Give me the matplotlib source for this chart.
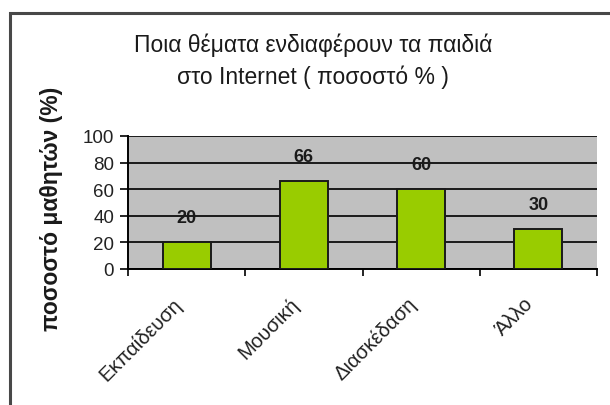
import matplotlib.pyplot as plt
import matplotlib.transforms as mtransforms
import numpy as np
from matplotlib.patches import Rectangle

plt.rcParams['font.family'] = ['Liberation Sans', 'DejaVu Sans']

categories = ["Εκπαίδευση", "Μουσική", "Διασκέδαση", "Άλλο"]
values = [20, 66, 60, 30]
title = "Ποια θέματα ενδιαφέρουν τα παιδιά\nστο Internet ( ποσοστό % )"
ylabel = "ποσοστό μαθητών (%)"

fig = plt.figure(figsize=(6.1, 4.06), dpi=100)
fig.patch.set_facecolor("white")

# outer chart-area frame (runs off the right and bottom of the picture)
fig.patches.append(Rectangle((10 / 610, -0.05), 1.0, 1.05 - 13.5 / 406,
                             transform=fig.transFigure, fill=False,
                             edgecolor="#484848", linewidth=2.2))

ax = fig.add_axes([128 / 610, 1 - 270 / 406, 469 / 610, 133 / 406])
ax.set_facecolor("#C0C0C0")

x = np.arange(len(categories))
ax.bar(x, values, width=0.41, color="#99CC00", edgecolor="#1a1a1a",
       linewidth=1.4, zorder=3)
for xi, v in zip(x, values):
    ax.text(xi, v + 18.5, str(v), ha="center", va="center",
            fontsize=13, fontweight="bold", color="#1a1a1a", zorder=4)

ax.set_xlim(-0.5, len(categories) - 0.5)
ax.set_ylim(0, 100)
ax.set_yticks([0, 20, 40, 60, 80, 100])
ax.yaxis.grid(True, color="#1a1a1a", linewidth=1.4, zorder=1)
ax.set_axisbelow(True)

ax.set_xticks(x)
ax.set_xticklabels(categories, rotation=45, ha="right",
                   rotation_mode="anchor", fontsize=14.5, color="#222222")
ax.set_xticks(np.arange(len(categories) + 1) - 0.5, minor=True)
ax.tick_params(axis="x", which="major", length=0, pad=14)
ax.tick_params(axis="x", which="minor", length=5, width=1.2,
               direction="out")
ax.tick_params(axis="y", length=6, width=1.2, direction="out", pad=4,
               labelsize=13.5, labelcolor="#222222")

# nudge the slanted labels a little left/down, as in the original
shift = mtransforms.ScaledTranslation(-15 / 100, -5 / 100, fig.dpi_scale_trans)
for lab in ax.get_xticklabels():
    lab.set_transform(lab.get_transform() + shift)

for s in ("top", "right"):
    ax.spines[s].set_visible(False)
ax.spines["left"].set_linewidth(1.4)
ax.spines["bottom"].set_linewidth(1.4)

fig.text(313 / 610, 1 - 61.5 / 406, title, ha="center", va="center",
         fontsize=16.5, linespacing=1.45, color="#1a1a1a")
fig.text(52 / 610, 1 - 209 / 406, ylabel, rotation=90, ha="center",
         va="center", fontsize=16.5, fontweight="bold", color="#1a1a1a")

fig.savefig("out.png", dpi=100)
